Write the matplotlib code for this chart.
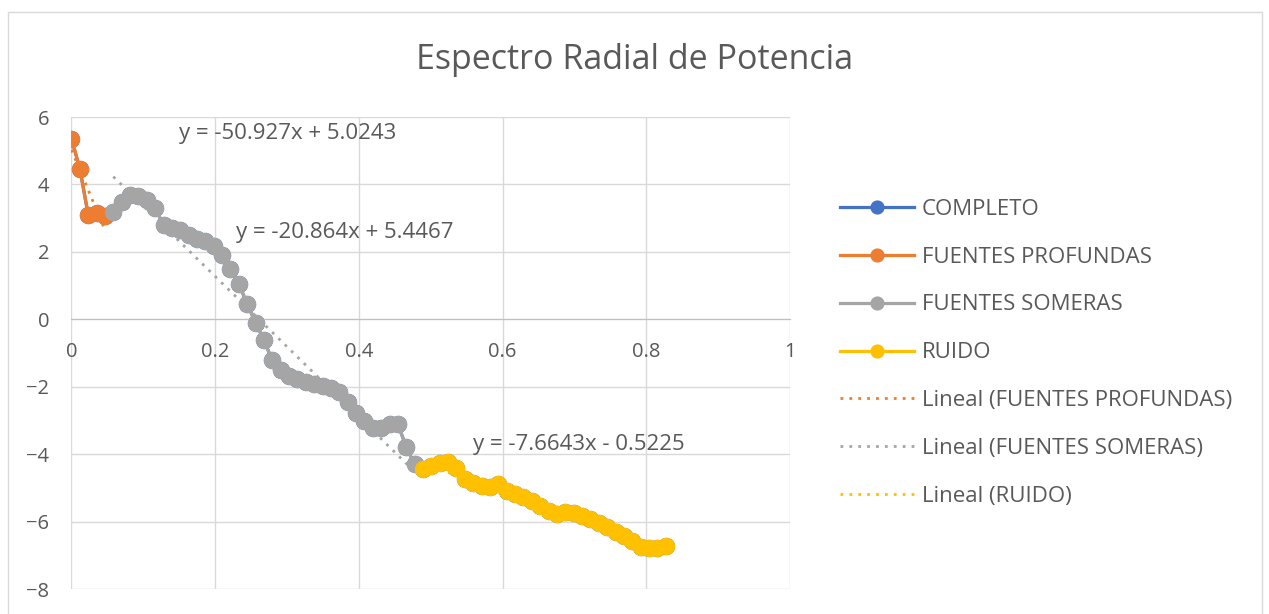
import matplotlib.pyplot as plt
import numpy as np
from matplotlib.patches import Rectangle

plt.rcParams['font.family'] = ['Open Sans', 'DejaVu Sans']

# Radial power spectrum (log power) sampled every 0.01165 in wavenumber
paso = 0.01165
espectro = [
    5.36, 4.47, 3.10, 3.15, 3.05,
    3.19, 3.49, 3.69, 3.66, 3.54, 3.29, 2.80, 2.70, 2.65, 2.50,
    2.38, 2.32, 2.18, 1.90, 1.50, 1.05, 0.45, -0.10, -0.62, -1.22,
    -1.50, -1.68, -1.78, -1.86, -1.93, -1.97, -2.03, -2.17, -2.45, -2.78,
    -3.03, -3.22, -3.22, -3.10, -3.10, -3.80, -4.30,
    -4.45, -4.35, -4.25, -4.22, -4.42, -4.75, -4.85, -4.93, -4.98, -4.90,
    -5.08, -5.18, -5.28, -5.40, -5.53, -5.68, -5.78, -5.72, -5.76, -5.82,
    -5.92, -6.03, -6.17, -6.31, -6.42, -6.58, -6.74, -6.79, -6.78, -6.72,
]
numero_onda = np.arange(len(espectro)) * paso

# index ranges of each segment
profundas = slice(0, 5)
someras = slice(5, 42)
ruido = slice(42, len(espectro))

# trendline coefficients (slope, intercept) as shown on the chart
coef_profundas = [-50.927, 5.0243]
coef_someras = [-20.864, 5.4467]
coef_ruido = [-7.6643, -0.5225]

azul = '#4472C4'
naranja = '#ED7D31'
gris = '#A5A5A5'
amarillo = '#FFC000'
texto = '#595959'

fig = plt.figure(figsize=(12.69, 6.14), dpi=100)
ax = fig.add_axes([0.0563, 0.0407, 0.5662, 0.7687])

y = np.array(espectro)
estilo = dict(marker='o', markersize=11.5, linewidth=2.3)
ax.plot(numero_onda, y, color=azul, label='COMPLETO', zorder=2, **estilo)
ax.plot(numero_onda[profundas], y[profundas], color=naranja, label='FUENTES PROFUNDAS', zorder=3, **estilo)
ax.plot(numero_onda[someras], y[someras], color=gris, label='FUENTES SOMERAS', zorder=3, **estilo)
ax.plot(numero_onda[ruido], y[ruido], color=amarillo, label='RUIDO', zorder=3, **estilo)

# linear trendlines over each segment
for seg, coef, color, nombre in [(profundas, coef_profundas, naranja, 'FUENTES PROFUNDAS'),
                                 (someras, coef_someras, gris, 'FUENTES SOMERAS'),
                                 (ruido, coef_ruido, amarillo, 'RUIDO')]:
    xs = numero_onda[seg]
    xt = np.array([xs[0], xs[-1]])
    ax.plot(xt, coef[0] * xt + coef[1], color=color, linestyle=(0, (1, 2.2)),
            linewidth=2, label='Lineal (' + nombre + ')', zorder=4)

# trendline equations
ax.text(0.301, 5.52, 'y = -50.927x + 5.0243', fontsize=16, color=texto, ha='center', va='center', zorder=5)
ax.text(0.381, 2.57, 'y = -20.864x + 5.4467', fontsize=16, color=texto, ha='center', va='center', zorder=5)
ax.text(0.706, -3.72, 'y = -7.6643x - 0.5225', fontsize=16, color=texto, ha='center', va='center', zorder=5)

ax.set_xlim(0, 1)
ax.set_ylim(-8, 6)
ax.set_xticks([0, 0.2, 0.4, 0.6, 0.8, 1])
ax.set_xticklabels(['0', '0.2', '0.4', '0.6', '0.8', '1'])
ax.set_yticks(range(-8, 7, 2))
ax.grid(True, color='#d9d9d9', linewidth=1)
ax.set_axisbelow(True)
for lado in ['top', 'right', 'left']:
    ax.spines[lado].set_visible(False)
ax.spines['bottom'].set_position(('data', 0))
ax.spines['bottom'].set_color('#bfbfbf')
ax.tick_params(axis='both', length=0, labelsize=14.5, labelcolor=texto)
ax.tick_params(axis='x', pad=16)
ax.tick_params(axis='y', pad=16)

fig.text(0.5, 0.902, 'Espectro Radial de Potencia', fontsize=24.5, color=texto, ha='center', va='center')

ax.legend(loc='upper left', bbox_to_anchor=(0.646, 0.709), bbox_transform=fig.transFigure,
          frameon=False, fontsize=16, labelcolor=texto, handlelength=3.33,
          handletextpad=0.36, labelspacing=1.21, markerscale=0.8)

fig.patches.append(Rectangle((0.0063, -0.01), 0.988, 0.9905, transform=fig.transFigure,
                             fill=False, edgecolor='#d9d9d9', linewidth=1))

fig.savefig('out.png', dpi=100)
